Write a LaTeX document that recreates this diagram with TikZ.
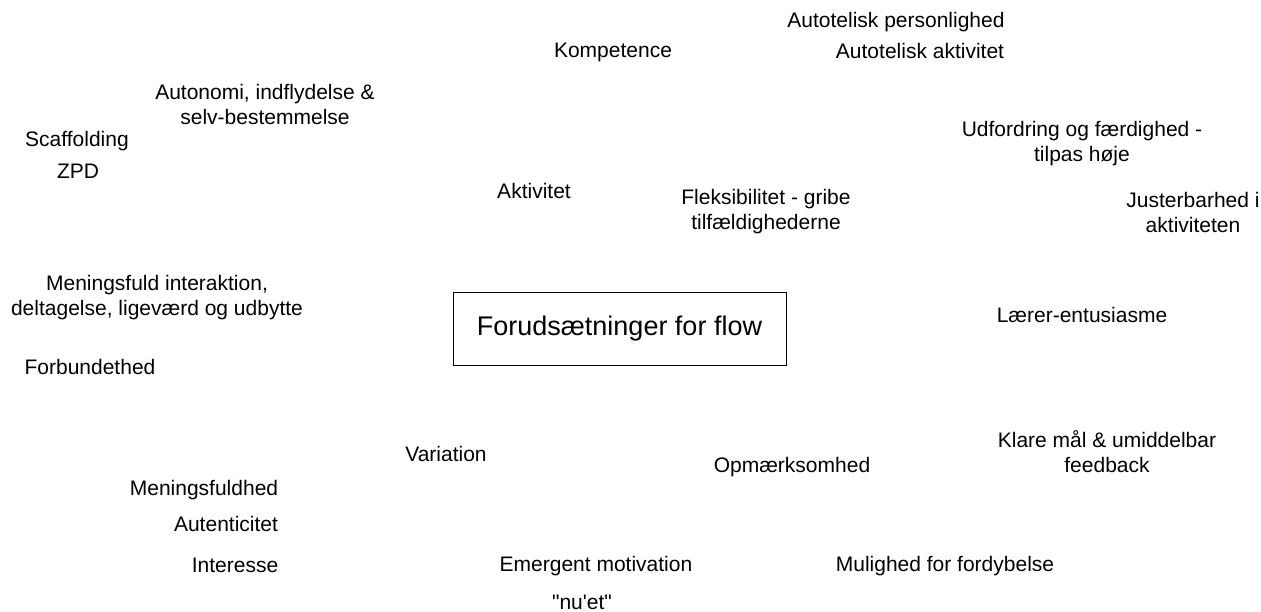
\documentclass[tikz,border=0pt]{standalone}
\usepackage{fontspec}
\newfontfamily\arial{Liberation Sans}
\begin{document}
\begin{tikzpicture}[x=1pt,y=-1pt,
  lbl/.style={inner sep=0pt,align=center,font=\arial\fontsize{21}{25}\selectfont},
  mainbox/.style={draw,line width=0.8pt,minimum width=333pt,minimum height=73pt,font=\arial\fontsize{27}{32}\selectfont}]
\useasboundingbox (0,0) rectangle (1261,612);
\node[mainbox] (flow) at (619.5,328.5) {Forudsætninger for flow};
\node[lbl] (ap) at (896,22) {Autotelisk personlighed};
\node[lbl] (aa) at (920,51) {Autotelisk aktivitet};
\node[lbl] (komp) at (613,52) {Kompetence};
\node[lbl] (auto) at (265,104) {Autonomi, indflydelse \&\\selv-bestemmelse};
\node[lbl] (scaf) at (77,141) {Scaffolding};
\node[lbl] (zpd) at (78,171) {ZPD};
\node[lbl] (udf) at (1082,144) {Udfordring og færdighed -\\tilpas høje};
\node[lbl] (akt) at (534,191) {Aktivitet};
\node[lbl] (fleks) at (766,212) {Fleksibilitet - gribe\\tilfældighederne};
\node[lbl] (just) at (1193,212) {Justerbarhed i\\aktiviteten};
\node[lbl] (men) at (157,298) {Meningsfuld interaktion,\\deltagelse, ligeværd og udbytte};
\node[lbl] (laer) at (1082,315) {Lærer-entusiasme};
\node[lbl] (forb) at (90,367) {Forbundethed};
\node[lbl] (klare) at (1107,452) {Klare mål \& umiddelbar\\feedback};
\node[lbl] (var) at (446,454) {Variation};
\node[lbl] (opm) at (792,467) {Opmærksomhed};
\node[lbl] (mfh) at (204,490) {Meningsfuldhed};
\node[lbl] (aut) at (226,524) {Autenticitet};
\node[lbl] (int) at (235,565) {Interesse};
\node[lbl] (emg) at (596,566) {Emergent motivation};
\node[lbl] (mul) at (945,566) {Mulighed for fordybelse};
\node[lbl] (nu) at (582,602) {"nu'et"};
\end{tikzpicture}
\end{document}
